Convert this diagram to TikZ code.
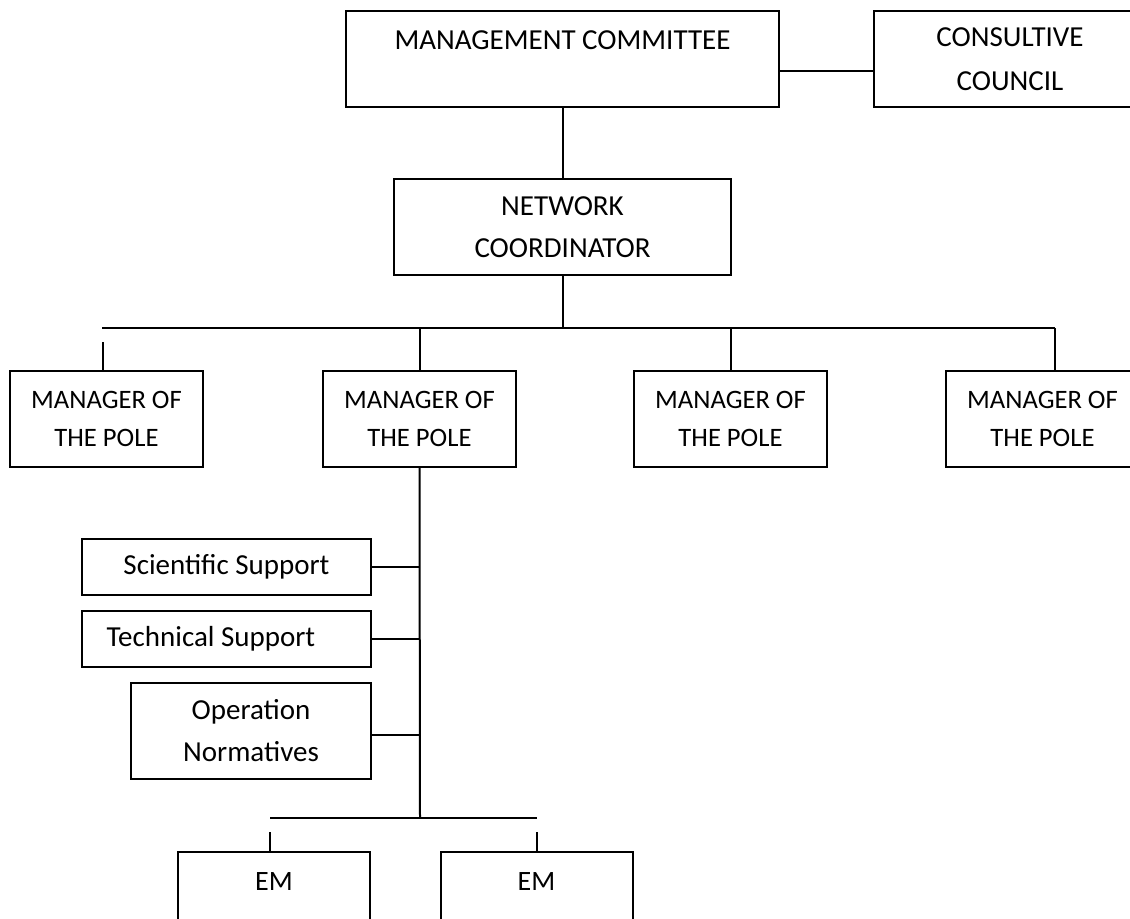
\documentclass[tikz,border=0pt]{standalone}
\usepackage{fontspec}
\setmainfont{Carlito}
\usetikzlibrary{calc}
\tikzset{
  orgbox/.style={draw, line width=1pt, align=center, inner sep=0pt, font=\fontsize{14.5}{19}\selectfont},
  polebox/.style={orgbox, minimum width=96.5pt, minimum height=48pt, font=\fontsize{13.3}{19}\selectfont},
  link/.style={line width=1pt}
}
\begin{document}
\begin{tikzpicture}[x=0.5pt,y=0.5pt,yscale=-1,xscale=1]
%set diagram left start at 0, and has height of 918
\useasboundingbox (0,0) rectangle (1130,918);

% Text Node
\node[orgbox, minimum width=216.5pt, minimum height=48pt] (mc) at (562.5,59) {MANAGEMENT COMMITTEE\\ \mbox{}};
% Text Node
\node[orgbox, minimum width=136pt, minimum height=48pt] (cc) at (1010,59) {CONSULTIVE\\[3pt] COUNCIL};
% Text Node
\node[orgbox, minimum width=168.5pt, minimum height=48pt] (nc) at (562.5,227) {NETWORK\\[2pt] COORDINATOR};
% Text Node
\node[polebox] (mp1) at (106.5,419) {MANAGER OF\\ THE POLE};
% Text Node
\node[polebox] (mp2) at (419.5,419) {MANAGER OF\\ THE POLE};
% Text Node
\node[polebox] (mp3) at (730.5,419) {MANAGER OF\\ THE POLE};
% Text Node
\node[polebox] (mp4) at (1042.5,419) {MANAGER OF\\ THE POLE};
% Text Node
\node[orgbox, minimum width=144.5pt, minimum height=28pt] (ss) at (226.5,567) {Scientific Support};
% Text Node
\node[orgbox, minimum width=144.5pt, minimum height=28pt] (ts) at (226.5,639) {Technical Support\hspace*{15.5pt}};
% Text Node
\node[orgbox, minimum width=120pt, minimum height=48pt] (op) at (251,731) {Operation\\[2pt] Normatives};
% Text Node
\node[orgbox, minimum width=96pt, minimum height=48pt, font=\fontsize{14}{19}\selectfont] (em1) at (274,900) {EM\\ \mbox{}};
% Text Node
\node[orgbox, minimum width=96pt, minimum height=48pt, font=\fontsize{14}{19}\selectfont] (em2) at (536.5,900) {EM\\ \mbox{}};

%Straight Lines
\draw[link] ($(mc.east)+(0,12)$) -- ($(cc.west)+(0,12)$);
\draw[link] (mc.south) -- (nc.north);
%Straight Lines
\coordinate (busL) at (102,328);
\coordinate (busR) at (1055,328);
\draw[link] (nc.south) -- (nc.south |- busL);
\draw[link] (busL) -- (busR);
\coordinate (d1) at (103,342);
\draw[link] (d1) -- (d1 |- mp1.north);
\draw[link] (mp2.north |- busL) -- (mp2.north);
\draw[link] (mp3.north |- busL) -- (mp3.north);
\draw[link] (busR) -- (busR |- mp4.north);
%Straight Lines
\coordinate (spine) at (420,818);
\draw[link] (mp2.south) -- (spine);
\draw[link] (ss.east) -- (ss.east -| spine);
\draw[link] (ts.east) -- (ts.east -| spine);
\draw[link] ($(op.east)+(0,4)$) -- ($(op.east -| spine)+(1,4)$);
%Straight Lines
\coordinate (emL) at (270,818);
\coordinate (emR) at (537,818);
\draw[link] (emL) -- (emR);
\draw[link] ($(emL)+(0,14)$) -- (emL |- em1.north);
\draw[link] ($(emR)+(0,14)$) -- (emR |- em2.north);

\end{tikzpicture}
\end{document}
